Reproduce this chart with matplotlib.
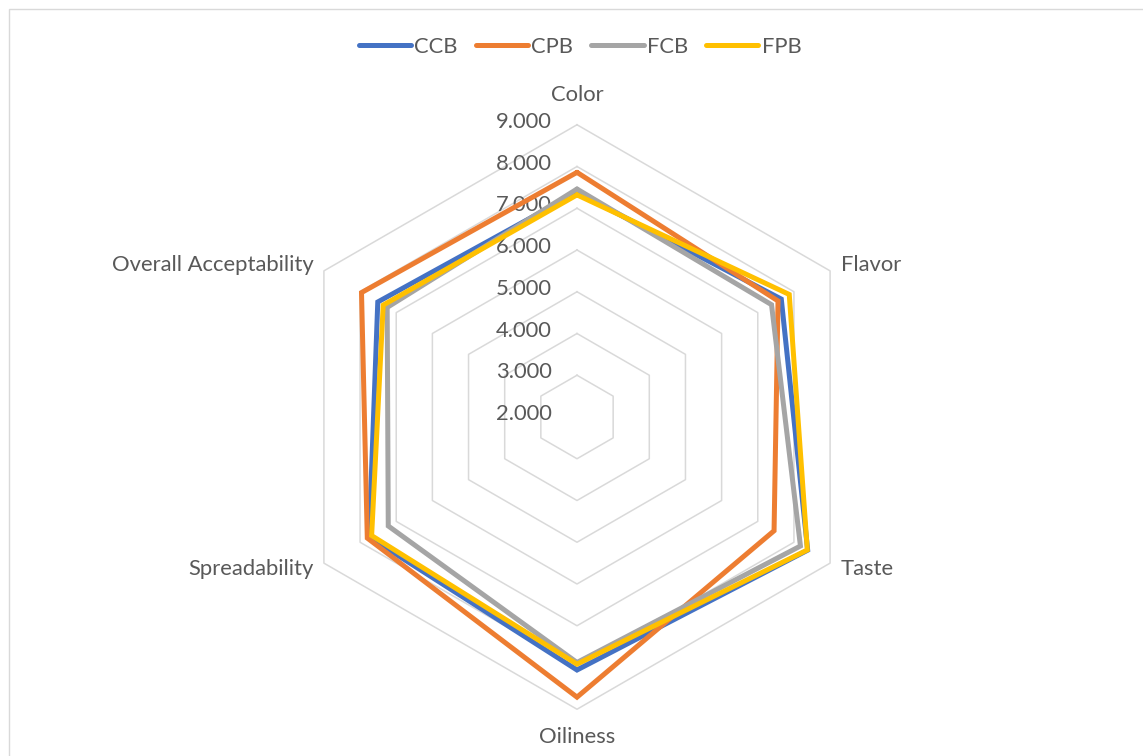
import matplotlib.pyplot as plt
from matplotlib.patches import Rectangle
import numpy as np

plt.rcParams['font.family'] = ['Lato', 'DejaVu Sans']

categories = ['Color', 'Flavor', 'Taste', 'Oiliness', 'Spreadability', 'Overall Acceptability']
series_names = ['CCB', 'CPB', 'FCB', 'FPB']
ccb = [7.38, 7.65, 8.38, 8.06, 7.75, 7.51]
cpb = [7.86, 7.56, 7.45, 8.71, 7.80, 7.96]
fcb = [7.46, 7.38, 8.18, 7.88, 7.22, 7.25]
fpb = [7.32, 7.87, 8.37, 7.92, 7.68, 7.36]
ticks = [2, 3, 4, 5, 6, 7, 8, 9]
colors = ['#4472C4', '#ED7D31', '#A5A5A5', '#FFC000']

r_min = 2.0   # value at the centre of the radar
px_unit = 41.75   # pixels per value unit
cx, cy = 577, 417   # centre of the radar in pixels (from top-left)
W, H = 1143, 756
text_col = '#595959'
grid_col = '#D9D9D9'
fs = 15.8

n = len(categories)
ang = np.arange(n) * 2 * np.pi / n


def to_xy(vals):
    r = np.asarray(vals, dtype=float) - r_min
    x = r * np.sin(ang)
    y = r * np.cos(ang)
    return np.append(x, x[0]), np.append(y, y[0])


fig = plt.figure(figsize=(W / 100, H / 100), dpi=100)
ax = fig.add_axes([0, 0, 1, 1])
ax.set_xlim(-cx / px_unit, (W - cx) / px_unit)
ax.set_ylim(-(H - cy) / px_unit, cy / px_unit)
ax.axis('off')

# grid rings
for t in ticks[1:]:
    gx, gy = to_xy([t] * n)
    ax.plot(gx, gy, color=grid_col, lw=1.1, zorder=1)

# tick labels
for t in ticks:
    ax.text(-0.6, t - r_min + 0.07, f'{t:.3f}', ha='right', va='center',
            fontsize=fs, color=text_col, zorder=2)

# series
for name, vals, c in zip(series_names, [ccb, cpb, fcb, fpb], colors):
    sx, sy = to_xy(vals)
    ax.plot(sx, sy, color=c, lw=3.6, label=name, solid_joinstyle='miter',
            solid_capstyle='round', zorder=3)

# category labels
R = ticks[-1] - r_min
for a, lab in zip(ang, categories):
    s, c = np.sin(a), np.cos(a)
    if abs(s) < 1e-6:
        x = 0
        y = R + 0.72 if c > 0 else -(R + 0.66)
        ha = 'center'
    else:
        x = R * s + np.sign(s) * 0.25
        y = R * c + np.sign(c) * 0.15
        ha = 'left' if s > 0 else 'right'
    ax.text(x, y, lab, ha=ha, va='center', fontsize=fs, color=text_col)

leg = fig.legend(loc='center', bbox_to_anchor=(580 / W, 1 - 47 / H), ncol=4,
                 frameon=False, fontsize=fs, handlelength=2.4,
                 handletextpad=0.15, columnspacing=0.8)
for txt in leg.get_texts():
    txt.set_color(text_col)
for h in leg.legend_handles:
    h.set_linewidth(3.6)

# chart area border
fig.add_artist(Rectangle((8.5 / W, -0.05), 1.1, 1.05 - 8.5 / H,
                         transform=fig.transFigure, fill=False,
                         edgecolor=grid_col, lw=1.0))

plt.savefig('out.png', dpi=100)
